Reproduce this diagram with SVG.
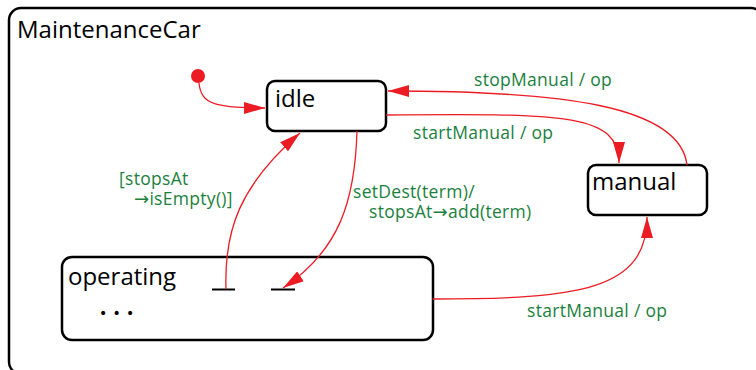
<svg xmlns="http://www.w3.org/2000/svg" width="756" height="370" viewBox="0 0 756 370">
  <style>
    .state { fill: #ffffff; stroke: #000000; stroke-width: 2.5; }
    .name { font-family: "Open Sans", "Liberation Sans", sans-serif; font-size: 24px; fill: #000000; }
    .edge { fill: none; stroke: #ec1c24; stroke-width: 1.3; }
    .label { font-family: "Open Sans", "Liberation Sans", "DejaVu Sans", sans-serif; font-size: 17.5px; fill: #1b7f3e; letter-spacing: 0.3px; }
    .arr { font-family: "DejaVu Sans", sans-serif; font-size: 18px; }
  </style>
  <defs>
    <marker id="arrow" markerUnits="userSpaceOnUse" markerWidth="22" markerHeight="12" refX="21" refY="6" orient="auto">
      <path d="M0,0 L21,6 L0,12 z" fill="#ec1c24"/>
    </marker>
  </defs>
  <rect width="756" height="370" fill="#ffffff"/>

  <!-- enclosing composite state -->
  <g id="MaintenanceCar">
    <rect class="state" x="9" y="8" width="754" height="366" rx="12"/>
    <text class="name" x="17" y="38">MaintenanceCar</text>
  </g>

  <!-- initial pseudostate -->
  <g id="initial">
    <circle cx="198" cy="76" r="7" fill="#ec1c24"/>
  </g>

  <g id="idle">
    <rect class="state" x="267" y="81" width="119" height="50" rx="8"/>
    <text class="name" x="275" y="107">idle</text>
  </g>

  <g id="manual">
    <rect class="state" x="588" y="165" width="119" height="50" rx="8"/>
    <text class="name" x="592" y="190">manual</text>
  </g>

  <g id="operating">
    <rect class="state" x="62" y="257" width="371" height="83" rx="10"/>
    <text class="name" x="68" y="285">operating</text>
    <text x="99" y="318" font-family="DejaVu Sans, sans-serif" font-size="14" letter-spacing="0.4" fill="#000">• • •</text>
    <line x1="212" y1="289.5" x2="235" y2="289.5" stroke="#000" stroke-width="2"/>
    <line x1="271" y1="289.5" x2="295" y2="289.5" stroke="#000" stroke-width="2"/>
  </g>

  <!-- transitions -->
  <g id="connectors">
    <path class="edge" d="M199,83 C201,104 215,108 265,108" marker-end="url(#arrow)"/>
    <path class="edge" d="M386,115 C560,114 619,112 619,163" marker-end="url(#arrow)"/>
    <path class="edge" d="M687,165 C680,105 560,91 388,91" marker-end="url(#arrow)"/>
    <path class="edge" d="M357,131 C355,200 340,250 283,288" marker-end="url(#arrow)"/>
    <path class="edge" d="M226,289 C224,230 240,185 300,133" marker-end="url(#arrow)"/>
    <path class="edge" d="M433,299 C580,299 647,290 647,217" marker-end="url(#arrow)"/>
  </g>

  <g id="labels">
    <text class="label" x="474" y="86">stopManual / op</text>
    <text class="label" x="413" y="139">startManual / op</text>
    <text class="label" x="353" y="198">setDest(term)/</text>
    <text class="label" x="369" y="218">stopsAt<tspan class="arr">→</tspan>add(term)</text>
    <text class="label" x="119" y="185">[stopsAt</text>
    <text class="label" x="134" y="205"><tspan class="arr">→</tspan>isEmpty()]</text>
    <text class="label" x="527" y="317">startManual / op</text>
  </g>
</svg>
